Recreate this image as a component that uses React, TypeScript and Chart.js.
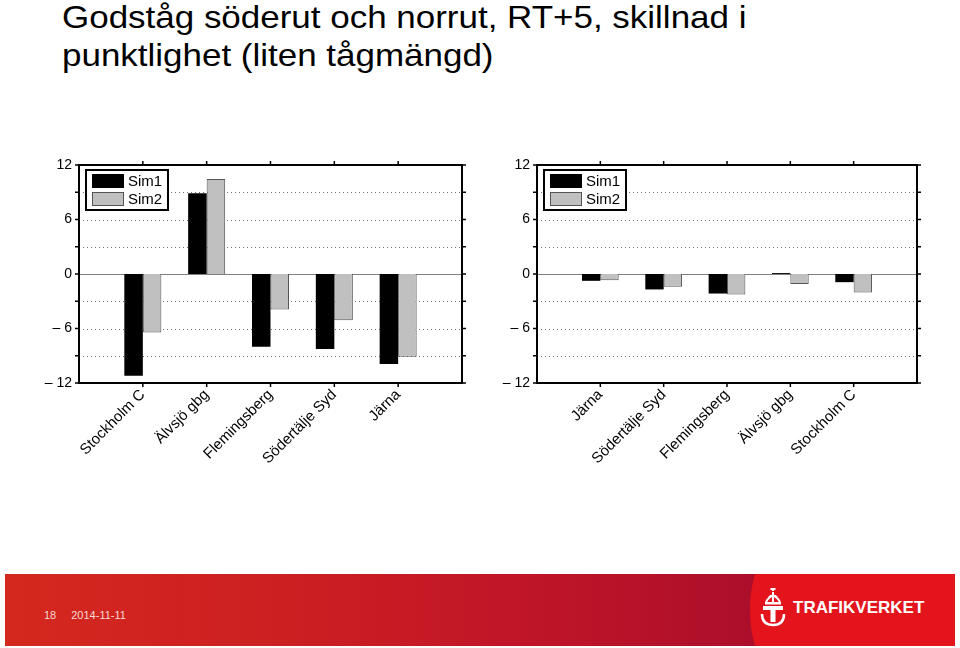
import React, { useEffect, useRef } from 'react';
import { Chart, registerables } from 'chart.js';

Chart.register(...registerables);

// ---------- data ----------
const TITLE_LINE_1 = 'Godståg söderut och norrut, RT+5, skillnad i';
const TITLE_LINE_2 = 'punktlighet (liten tågmängd)';

const SERIES_NAMES = ['Sim1', 'Sim2'];

const LEFT_CATEGORIES = ['Stockholm C', 'Älvsjö gbg', 'Flemingsberg', 'Södertälje Syd', 'Järna'];
const LEFT_SIM1 = [-11.2, 8.9, -8.0, -8.25, -9.9];
const LEFT_SIM2 = [-6.45, 10.45, -3.9, -5.1, -9.1];

const RIGHT_CATEGORIES = ['Järna', 'Södertälje Syd', 'Flemingsberg', 'Älvsjö gbg', 'Stockholm C'];
const RIGHT_SIM1 = [-0.75, -1.7, -2.15, 0.1, -0.9];
const RIGHT_SIM2 = [-0.7, -1.4, -2.25, -1.1, -2.05];

const Y_MIN = -12;
const Y_MAX = 12;
const Y_STEP = 3;
const Y_LABEL_STEP = 6;

const FOOTER_PAGE = '18';
const FOOTER_DATE = '2014-11-11';
const LOGO_TEXT = 'TRAFIKVERKET';

const FONT = "'Liberation Sans', Arial, Helvetica, sans-serif";

// ---------- plugin: grid, frame, ticks, legend ----------
const framePlugin = {
  id: 'framePlugin',
  beforeDatasetsDraw(chart: any) {
    const { ctx, chartArea: a, scales } = chart;
    const y = scales.y;
    ctx.save();
    y.ticks.forEach((t: any) => {
      const v = t.value;
      if (v === Y_MIN || v === Y_MAX) return;
      const py = Math.round(y.getPixelForValue(v)) + 0.5;
      ctx.beginPath();
      if (v === 0) {
        ctx.setLineDash([]);
        ctx.strokeStyle = '#808080';
      } else {
        ctx.setLineDash([1, 3]);
        ctx.strokeStyle = '#707070';
      }
      ctx.lineWidth = 1;
      ctx.moveTo(a.left, py);
      ctx.lineTo(a.right, py);
      ctx.stroke();
    });
    ctx.restore();
  },
  afterDraw(chart: any) {
    const { ctx, chartArea: a, scales } = chart;
    const x = scales.x;
    const y = scales.y;
    ctx.save();
    ctx.setLineDash([]);
    ctx.strokeStyle = '#000';
    ctx.lineWidth = 2;
    ctx.strokeRect(a.left, a.top, a.right - a.left, a.bottom - a.top);

    // y ticks, outward on both sides
    ctx.lineWidth = 1.5;
    y.ticks.forEach((t: any) => {
      const py = y.getPixelForValue(t.value);
      ctx.beginPath();
      ctx.moveTo(a.left - 4, py);
      ctx.lineTo(a.left, py);
      ctx.moveTo(a.right, py);
      ctx.lineTo(a.right + 4, py);
      ctx.stroke();
    });
    // x ticks at category positions, outward top and bottom
    const labels = chart.data.labels as string[];
    labels.forEach((lab: string, i: number) => {
      if (!lab) return;
      const px = x.getPixelForValue(i);
      ctx.beginPath();
      ctx.moveTo(px, a.top - 4);
      ctx.lineTo(px, a.top);
      ctx.moveTo(px, a.bottom);
      ctx.lineTo(px, a.bottom + 4);
      ctx.stroke();
    });

    // legend box
    const bx = a.left + 7;
    const by = a.top + 5;
    const bw = 82;
    const bh = 40;
    ctx.fillStyle = '#fff';
    ctx.fillRect(bx, by, bw, bh);
    ctx.lineWidth = 2;
    ctx.strokeStyle = '#000';
    ctx.strokeRect(bx, by, bw, bh);
    chart.data.datasets.forEach((ds: any, i: number) => {
      const sy = by + 4 + i * 18;
      ctx.fillStyle = ds.backgroundColor;
      ctx.fillRect(bx + 6, sy, 32, 14);
      if (ds.borderWidth) {
        ctx.lineWidth = 1;
        ctx.strokeStyle = ds.borderColor;
        ctx.strokeRect(bx + 6.5, sy + 0.5, 31, 13);
      }
      ctx.fillStyle = '#000';
      ctx.font = `15px ${FONT}`;
      ctx.textAlign = 'left';
      ctx.textBaseline = 'middle';
      ctx.fillText(ds.label, bx + 42, sy + 7.5);
    });
    ctx.restore();
  },
};

function formatY(v: number): string {
  if (v % Y_LABEL_STEP !== 0) return '';
  return v < 0 ? `\u2013 ${Math.abs(v)}` : `${v}`;
}

interface PanelProps {
  categories: string[];
  sim1: number[];
  sim2: number[];
  left: number;
  yWidth: number;
  padRight: number;
}

function Panel({ categories, sim1, sim2, left, yWidth, padRight }: PanelProps) {
  const ref = useRef<HTMLCanvasElement | null>(null);
  useEffect(() => {
    if (!ref.current) return;
    const labels = ['', ...categories, ''];
    const pad = (arr: number[]) => [null, ...arr, null];
    const chart = new Chart(ref.current, {
      type: 'bar',
      data: {
        labels,
        datasets: [
          {
            label: SERIES_NAMES[0],
            data: pad(sim1) as any,
            backgroundColor: '#000000',
            borderWidth: 0,
            categoryPercentage: 0.58,
            barPercentage: 1,
          },
          {
            label: SERIES_NAMES[1],
            data: pad(sim2) as any,
            backgroundColor: '#c0c0c0',
            borderColor: '#555555',
            borderWidth: 1,
            categoryPercentage: 0.58,
            barPercentage: 1,
          },
        ],
      },
      options: {
        responsive: false,
        animation: false,
        layout: { padding: { top: 25, right: padRight, bottom: 0, left: 0 } },
        plugins: {
          legend: { display: false },
          tooltip: { enabled: false },
        },
        scales: {
          x: {
            type: 'category',
            offset: false,
            grid: { display: false, drawTicks: false },
            border: { display: false },
            ticks: {
              autoSkip: false,
              minRotation: 45,
              maxRotation: 45,
              padding: 3,
              color: '#000',
              font: { family: FONT, size: 15 },
            },
            afterFit(scale: any) {
              scale.height = 97;
            },
          },
          y: {
            type: 'linear',
            min: Y_MIN,
            max: Y_MAX,
            grid: { display: false, drawTicks: false },
            border: { display: false },
            ticks: {
              stepSize: Y_STEP,
              padding: 7,
              color: '#000',
              font: { family: FONT, size: 14 },
              callback: (v: any) => formatY(Number(v)),
            },
            afterFit(scale: any) {
              scale.width = yWidth;
            },
          },
        },
      },
      plugins: [framePlugin],
    });
    return () => chart.destroy();
  }, [categories, sim1, sim2, yWidth, padRight]);

  return (
    <canvas
      ref={ref}
      width={470}
      height={340}
      style={{ position: 'absolute', left, top: 140, width: 470, height: 340 }}
    />
  );
}

function Logo() {
  return (
    <div style={{ position: 'absolute', left: 754, top: 14, display: 'flex', alignItems: 'center' }}>
      <svg width="28" height="40" viewBox="0 0 28 40">
        <g fill="none" stroke="#fff" strokeWidth="2">
          <path d="M7 14 Q14 2 21 14" />
          <path d="M14 4 L14 14" />
          <path d="M10 9 Q14 6 18 9" />
          <path d="M3 26 Q3 37 14 37 Q25 37 25 26" strokeWidth="2.5" />
        </g>
        <g fill="#fff">
          <rect x="11.5" y="0" width="5" height="2" />
          <rect x="13" y="-1" width="2" height="4" />
          <rect x="6" y="14" width="16" height="2.5" />
          <rect x="4" y="18" width="20" height="4" />
          <rect x="11.5" y="18" width="5" height="16" />
        </g>
      </svg>
      <span
        style={{
          marginLeft: 6,
          color: '#fff',
          fontFamily: FONT,
          fontWeight: 700,
          fontSize: 17,
        }}
      >
        {LOGO_TEXT}
      </span>
    </div>
  );
}

export default function App() {
  return (
    <div
      style={{
        position: 'fixed',
        left: 0,
        top: 0,
        width: 960,
        height: 648,
        background: '#fff',
        overflow: 'hidden',
        fontFamily: FONT,
      }}
    >
      <div
        style={{
          position: 'absolute',
          left: 62,
          top: -2,
          fontSize: 31.5,
          lineHeight: '38px',
          color: '#000',
          whiteSpace: 'nowrap',
          transform: 'scaleX(1.11)',
          transformOrigin: 'left top',
        }}
      >
        <div>{TITLE_LINE_1}</div>
        <div>{TITLE_LINE_2}</div>
      </div>

      <Panel categories={LEFT_CATEGORIES} sim1={LEFT_SIM1} sim2={LEFT_SIM2} left={20} yWidth={59} padRight={28} />
      <Panel categories={RIGHT_CATEGORIES} sim1={RIGHT_SIM1} sim2={RIGHT_SIM2} left={480} yWidth={57} padRight={33} />

      <div
        style={{
          position: 'absolute',
          left: 5,
          top: 574,
          width: 950,
          height: 72,
          overflow: 'hidden',
          background: 'linear-gradient(to right, #d4281e 0%, #cc1f22 30%, #c01528 55%, #ad0f2b 78%, #a50d2b 80%)',
        }}
      >
        <div
          style={{
            position: 'absolute',
            left: 745,
            top: -10,
            width: 240,
            height: 92,
            background: '#e3141c',
            borderRadius: '14px 0 0 14px / 46px 0 0 46px',
          }}
        />
        <div
          style={{
            position: 'absolute',
            left: 39,
            top: 35,
            fontSize: 11,
            color: '#f6d8d6',
            whiteSpace: 'nowrap',
          }}
        >
          <span>{FOOTER_PAGE}</span>
          <span style={{ marginLeft: 15 }}>{FOOTER_DATE}</span>
        </div>
        <Logo />
      </div>
    </div>
  );
}
